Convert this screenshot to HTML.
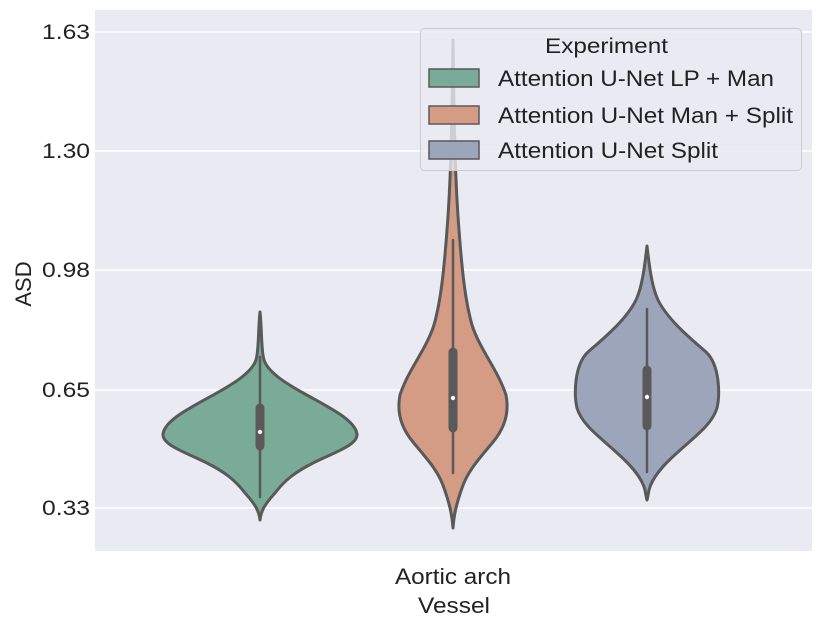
<!DOCTYPE html>
<html><head><style>body{margin:0;background:#fff}svg{display:block}text{font-family:"Liberation Sans",Arial,sans-serif}</style></head><body>
<svg width="830" height="635" xmlns="http://www.w3.org/2000/svg">
<rect x="95" y="10" width="717" height="541" fill="#eaeaf2"/>
<g stroke="#fff" stroke-width="1.5">
<line x1="95" x2="812" y1="32" y2="32"/><line x1="95" x2="812" y1="151" y2="151"/><line x1="95" x2="812" y1="270" y2="270"/><line x1="95" x2="812" y1="390" y2="390"/><line x1="95" x2="812" y1="508" y2="508"/>
</g>
<g font-size="21" fill="#222" lengthAdjust="spacingAndGlyphs">
<text x="42" y="39" textLength="48" lengthAdjust="spacingAndGlyphs">1.63</text><text x="42" y="158" textLength="48" lengthAdjust="spacingAndGlyphs">1.30</text><text x="42" y="277" textLength="48" lengthAdjust="spacingAndGlyphs">0.98</text><text x="42" y="397" textLength="48" lengthAdjust="spacingAndGlyphs">0.65</text><text x="42" y="515" textLength="48" lengthAdjust="spacingAndGlyphs">0.33</text>
</g>
<text x="31" y="284" font-size="22" fill="#222" text-anchor="middle" transform="rotate(-90 31 284)">ASD</text>
<text x="395" y="584" font-size="22" fill="#222" textLength="116" lengthAdjust="spacingAndGlyphs">Aortic arch</text>
<text x="418" y="613" font-size="22" fill="#222" textLength="72" lengthAdjust="spacingAndGlyphs">Vessel</text>
<g stroke="#595959" stroke-width="3" stroke-linejoin="round">
<path fill="#7aab99" d="M260,312 C262,330 261,350 264,360 C268,372 285,383 305,394 C330,408 355,420 357,434 C358,445 335,452 315,462 C295,472 285,480 275,493 C266,503 261,510 260,520 C259,510 254,503 245,493 C235,480 225,472 205,462 C185,452 162,445 163,434 C165,420 190,408 215,394 C235,383 252,372 256,360 C259,350 258,330 260,312 Z"/>
<path fill="#d59c85" d="M453,40 C454,120 455,180 459,230 C462,270 465,300 472,325 C480,350 498,370 506,395 C510,415 503,430 493,442 C480,458 468,470 462,488 C456,505 454,515 453,528 C452,515 450,505 444,488 C438,470 426,458 413,442 C403,430 396,415 400,395 C408,370 426,350 434,325 C441,300 444,270 447,230 C451,180 452,120 453,40 Z"/>
<path fill="#9da5ba" d="M647,246 C649,262 651,285 658,300 C668,320 690,338 706,352 C720,365 720,395 717,408 C712,425 693,438 678,452 C662,466 652,478 649,490 C648,496 647,500 647,500 C647,500 646,496 645,490 C642,478 632,466 616,452 C601,438 582,425 577,408 C574,395 574,365 588,352 C604,338 626,320 636,300 C643,285 645,262 647,246 Z"/>
</g>
<g stroke="#595959" stroke-linecap="round">
<line x1="260" x2="260" y1="357" y2="497" stroke-width="2.5"/><line x1="260" x2="260" y1="408" y2="446" stroke-width="9"/>
<line x1="453" x2="453" y1="240" y2="473" stroke-width="2.5"/><line x1="453" x2="453" y1="352" y2="428" stroke-width="9"/>
<line x1="647" x2="647" y1="309" y2="472" stroke-width="2.5"/><line x1="647" x2="647" y1="370" y2="426" stroke-width="9"/>
</g>
<g fill="#fff"><circle cx="260" cy="432" r="2.2"/><circle cx="453" cy="398" r="2.2"/><circle cx="647" cy="397" r="2.2"/></g>
<rect x="420.5" y="28.5" width="381" height="142" rx="4" fill="#eaeaf2" fill-opacity="0.8" stroke="#cccccc"/>
<text x="545" y="53" font-size="21" fill="#222" textLength="123" lengthAdjust="spacingAndGlyphs">Experiment</text>
<g stroke="#595959" stroke-width="1.5">
<rect x="429" y="69" width="50" height="18" fill="#7aab99"/>
<rect x="429" y="106" width="50" height="18" fill="#d59c85"/>
<rect x="429" y="141" width="50" height="18" fill="#9da5ba"/>
</g>
<g font-size="22" fill="#222">
<text x="498" y="86" textLength="276" lengthAdjust="spacingAndGlyphs">Attention U-Net LP + Man</text>
<text x="498" y="123" textLength="295" lengthAdjust="spacingAndGlyphs">Attention U-Net Man + Split</text>
<text x="498" y="158" textLength="220" lengthAdjust="spacingAndGlyphs">Attention U-Net Split</text>
</g>
</svg>
</body></html>
